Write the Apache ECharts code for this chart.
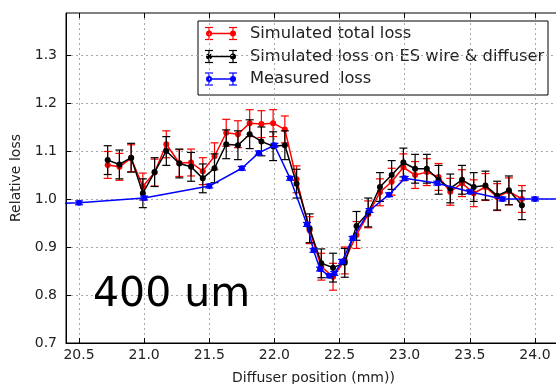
<!DOCTYPE html>
<html>
<head>
<meta charset="utf-8">
<script src="https://cdn.jsdelivr.net/npm/echarts@6/dist/echarts.min.js"></script>
<style>
  html, body { margin: 0; padding: 0; background: #fff; }
  #chart { width: 556px; height: 384px; }
</style>
</head>
<body>
<div id="chart"></div>
<script>
// Diffuser scan positions (mm) of the simulation runs
const simPositions = [20.72, 20.81, 20.90, 20.99, 21.08, 21.17, 21.27, 21.36, 21.45, 21.54,
  21.63, 21.72, 21.81, 21.90, 21.99, 22.08, 22.17, 22.27, 22.36, 22.45,
  22.54, 22.63, 22.72, 22.81, 22.90, 22.99, 23.08, 23.17, 23.26, 23.35,
  23.44, 23.53, 23.62, 23.71, 23.80, 23.90];

// Simulated total loss (relative)
const totalLoss = [1.071, 1.067, 1.085, 1.026, 1.055, 1.114, 1.075, 1.076, 1.058, 1.089,
  1.138, 1.135, 1.158, 1.156, 1.158, 1.145, 1.041, 0.935, 0.859, 0.838,
  0.872, 0.925, 0.968, 1.014, 1.036, 1.066, 1.050, 1.056, 1.046, 1.015,
  1.033, 1.012, 1.025, 1.004, 1.016, 1.000];

// Simulated loss on ES wire & diffuser (relative)
const wireLoss = [1.081, 1.072, 1.086, 1.012, 1.056, 1.100, 1.074, 1.067, 1.043, 1.064,
  1.114, 1.112, 1.135, 1.120, 1.110, 1.112, 1.032, 0.939, 0.866, 0.857,
  0.867, 0.944, 0.972, 1.025, 1.050, 1.076, 1.063, 1.063, 1.040, 1.022,
  1.040, 1.025, 1.028, 1.007, 1.018, 0.987];

// Measured loss: positions (mm) and relative values
const measPositions = [20.25, 20.5, 21.0, 21.5, 21.75, 21.88, 22.0, 22.12, 22.25, 22.30,
  22.35, 22.42, 22.46, 22.52, 22.60, 22.73, 22.88, 23.0, 23.25, 23.5,
  23.75, 24.0, 24.25];
const measLoss = [0.990, 0.992, 1.002, 1.027, 1.064, 1.096, 1.112, 1.043, 0.947, 0.893,
  0.854, 0.840, 0.845, 0.870, 0.918, 0.976, 1.009, 1.043, 1.033, 1.015,
  1.000, 1.000, 1.000];

// Error bar half-widths
const totalErr = 0.028;
const wireErr = 0.030;
const measErr = 0.004;

// Tick positions
const xTicks = [20.5, 21.0, 21.5, 22.0, 22.5, 23.0, 23.5, 24.0];
const yTicks = [0.7, 0.8, 0.9, 1.0, 1.1, 1.2, 1.3];

const legendNames = ['Simulated total loss', 'Simulated loss on ES wire & diffuser', 'Measured  loss'];
const colors = ['#ff0000', '#000000', '#0000ff'];

const FONT = '"DejaVu Sans", sans-serif';

function pts(xs, ys) { return xs.map((x, i) => [x, ys[i]]); }
function errPts(xs, ys, e) { return xs.map((x, i) => [x, ys[i], e]); }

function errorBars(color) {
  return function (params, api) {
    const x = api.value(0), y = api.value(1), e = api.value(2);
    const hi = api.coord([x, y + e]);
    const lo = api.coord([x, y - e]);
    const hw = 4;
    const style = { stroke: color, lineWidth: 1.2, fill: null };
    return {
      type: 'group',
      children: [
        { type: 'line', shape: { x1: hi[0], y1: hi[1], x2: lo[0], y2: lo[1] }, style: style },
        { type: 'line', shape: { x1: hi[0] - hw, y1: hi[1], x2: hi[0] + hw, y2: hi[1] }, style: style },
        { type: 'line', shape: { x1: lo[0] - hw, y1: lo[1], x2: lo[0] + hw, y2: lo[1] }, style: style }
      ]
    };
  };
}

function lineSeries(name, data, color, z) {
  return {
    name: name, type: 'line', data: data, z: z,
    symbol: 'circle', symbolSize: 6, clip: true,
    itemStyle: { color: color },
    lineStyle: { color: color, width: 1.5 },
    emphasis: { disabled: true },
    animation: false
  };
}

function errSeries(data, color, z) {
  return {
    type: 'custom', data: data, z: z, clip: true,
    encode: { x: 0, y: 1 },
    renderItem: errorBars(color),
    animation: false
  };
}

// Legend drawn as a framed box with error-bar glyphs
function legendGraphic() {
  const left = 198, top = 21, w = 350, h = 74;
  const rows = [33.5, 56.5, 79];
  const children = [{
    type: 'rect', shape: { x: left, y: top, width: w, height: h },
    style: { fill: '#fff', stroke: '#000', lineWidth: 1 }
  }];
  rows.forEach((ry, i) => {
    const c = colors[i];
    const s = { stroke: c, lineWidth: 1.2 };
    children.push({ type: 'line', shape: { x1: 209, y1: ry, x2: 233, y2: ry }, style: { stroke: c, lineWidth: 1.5 } });
    [209, 233].forEach(px => {
      children.push({ type: 'line', shape: { x1: px, y1: ry - 6, x2: px, y2: ry + 6 }, style: s });
      children.push({ type: 'line', shape: { x1: px - 4, y1: ry - 6, x2: px + 4, y2: ry - 6 }, style: s });
      children.push({ type: 'line', shape: { x1: px - 4, y1: ry + 6, x2: px + 4, y2: ry + 6 }, style: s });
      children.push({ type: 'circle', shape: { cx: px, cy: ry, r: 3 }, style: { fill: c } });
    });
    children.push({
      type: 'text', x: 250, y: ry,
      style: { text: legendNames[i], font: '16.3px ' + FONT, fill: '#222', verticalAlign: 'middle', align: 'left' }
    });
  });
  return { type: 'group', z: 100, children: children };
}

const chart = echarts.init(document.getElementById('chart'), null, { renderer: 'canvas' });

const xCommon = {
  type: 'value', min: 20.4, max: 24.2, splitNumber: 8
};

const gridLine = { show: true, lineStyle: { color: '#a8a8a8', type: [2, 3], width: 1 } };

chart.setOption({
  animation: false,
  backgroundColor: '#fff',
  grid: {
    left: 66, right: -5, top: 13, bottom: 41,
    outerBoundsMode: 'none', containLabel: false,
    show: true, borderColor: '#000', borderWidth: 1, backgroundColor: 'transparent'
  },
  xAxis: [
    Object.assign({}, xCommon, {
      position: 'bottom',
      name: 'Diffuser position (mm))', nameLocation: 'middle', nameGap: 28,
      nameTextStyle: { fontFamily: FONT, fontSize: 14, color: '#222' },
      axisLine: { show: true, onZero: false, lineStyle: { color: '#000', width: 1 } },
      axisTick: { show: true, inside: true, length: 5, customValues: xTicks, lineStyle: { color: '#000' } },
      axisLabel: { show: true, customValues: xTicks, margin: 5, fontFamily: FONT, fontSize: 14, color: '#222',
        formatter: v => v.toFixed(1) },
      splitLine: gridLine
    }),
    Object.assign({}, xCommon, {
      position: 'top',
      axisLine: { show: false },
      axisTick: { show: true, inside: true, length: 5, customValues: xTicks, lineStyle: { color: '#000' } },
      axisLabel: { show: false },
      splitLine: { show: false }
    })
  ],
  yAxis: {
    type: 'value', min: 0.7, max: 1.3875, interval: 0.1,
    name: 'Relative loss', nameLocation: 'middle', nameGap: 40,
    nameTextStyle: { fontFamily: FONT, fontSize: 14, color: '#222' },
    axisLine: { show: true, lineStyle: { color: '#000', width: 1 } },
    axisTick: { show: true, inside: true, length: 5, customValues: yTicks, lineStyle: { color: '#000' } },
    axisLabel: { show: true, customValues: yTicks, margin: 9, fontFamily: FONT, fontSize: 14, color: '#222',
      formatter: v => v.toFixed(1) },
    splitLine: gridLine
  },
  series: [
    errSeries(errPts(simPositions, totalLoss, totalErr), colors[0], 2),
    lineSeries(legendNames[0], pts(simPositions, totalLoss), colors[0], 3),
    errSeries(errPts(simPositions, wireLoss, wireErr), colors[1], 4),
    lineSeries(legendNames[1], pts(simPositions, wireLoss), colors[1], 5),
    errSeries(errPts(measPositions, measLoss, measErr), colors[2], 6),
    lineSeries(legendNames[2], pts(measPositions, measLoss), colors[2], 7)
  ],
  graphic: [
    legendGraphic(),
    {
      type: 'text', left: 93, top: 275, z: 100,
      style: { text: '400 um', font: '41px ' + FONT, fill: '#000' }
    }
  ]
});
</script>
</body>
</html>
